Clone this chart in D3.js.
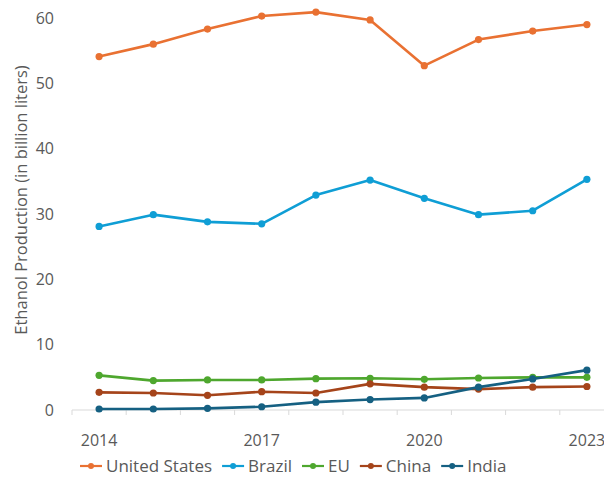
<!DOCTYPE html>
<html>
<head>
<meta charset="utf-8">
<script src="https://cdn.jsdelivr.net/npm/d3@7"></script>
<style>
  body { margin: 0; background: #fff; }
  text { font-family: "Open Sans", "Noto Sans", sans-serif; fill: #595959; }
</style>
</head>
<body>
<script>
(function() {

	// data
	var years = [2014, 2015, 2016, 2017, 2018, 2019, 2020, 2021, 2022, 2023];
	var tickYears = [2014, 2017, 2020, 2023];
	var yTicks = [0, 10, 20, 30, 40, 50, 60];
	var seriesNames = ['United States', 'Brazil', 'EU', 'China', 'India'];
	var seriesColors = ['#E97132', '#0F9ED5', '#4EA72E', '#A5441A', '#156082'];
	var usValues = [54.1, 56.0, 58.3, 60.3, 60.9, 59.7, 52.7, 56.7, 58.0, 59.0];
	var brazilValues = [28.1, 29.9, 28.8, 28.5, 32.9, 35.2, 32.4, 29.9, 30.5, 35.3];
	var euValues = [5.3, 4.5, 4.6, 4.6, 4.8, 4.85, 4.7, 4.9, 5.0, 5.0];
	var chinaValues = [2.7, 2.6, 2.25, 2.8, 2.6, 4.0, 3.5, 3.2, 3.5, 3.6];
	var indiaValues = [0.15, 0.15, 0.25, 0.5, 1.2, 1.6, 1.85, 3.5, 4.75, 6.1];

	var allValues = [usValues, brazilValues, euValues, chinaValues, indiaValues];

	var width = 604, height = 477;

	var svg = d3.select('body').append('svg')
		.attr('width', width)
		.attr('height', height);

	var x = d3.scaleBand()
		.domain(years)
		.range([72, 614]);

	var y = d3.scaleLinear()
		.domain([0, 60])
		.range([410, 18]);

	// x axis line with ticks between categories
	svg.append('line')
		.attr('x1', x.range()[0]).attr('x2', x.range()[1])
		.attr('y1', y(0)).attr('y2', y(0))
		.attr('stroke', '#d9d9d9').attr('stroke-width', 1);

	years.forEach(function(yr) {
		var tx = x(yr);
		svg.append('line')
			.attr('x1', tx).attr('x2', tx)
			.attr('y1', y(0)).attr('y2', y(0) + 5)
			.attr('stroke', '#d9d9d9').attr('stroke-width', 1);
	});

	svg.selectAll('.xlabel')
		.data(tickYears)
		.enter().append('text')
		.attr('class', 'xlabel')
		.attr('x', function(d) { return x(d) + x.bandwidth() / 2; })
		.attr('y', 446)
		.attr('text-anchor', 'middle')
		.style('font-size', '16px')
		.text(function(d) { return d; });

	svg.selectAll('.ylabel')
		.data(yTicks)
		.enter().append('text')
		.attr('class', 'ylabel')
		.attr('x', 54)
		.attr('y', function(d) { return y(d); })
		.attr('dy', '0.35em')
		.attr('text-anchor', 'end')
		.style('font-size', '16px')
		.text(function(d) { return d; });

	svg.append('text')
		.attr('transform', 'translate(27,' + 200 + ') rotate(-90)')
		.attr('text-anchor', 'middle')
		.style('font-size', '16.5px')
		.text('Ethanol Production (in billion liters)');

	var line = d3.line()
		.x(function(d, i) { return x(years[i]) + x.bandwidth() / 2; })
		.y(function(d) { return y(d); });

	allValues.forEach(function(vals, s) {
		var g = svg.append('g');
		g.append('path')
			.datum(vals)
			.attr('d', line)
			.attr('fill', 'none')
			.attr('stroke', seriesColors[s])
			.attr('stroke-width', 2.6)
			.attr('stroke-linejoin', 'round');
		g.selectAll('circle')
			.data(vals)
			.enter().append('circle')
			.attr('cx', function(d, i) { return x(years[i]) + x.bandwidth() / 2; })
			.attr('cy', function(d) { return y(d); })
			.attr('r', 3.6)
			.attr('fill', seriesColors[s]);
	});

	// Legend, laid out left to right
	var lx = 80;
	var legendY = 466;
	seriesNames.forEach(function(name, s) {
		svg.append('line')
			.attr('x1', lx).attr('x2', lx + 22)
			.attr('y1', legendY).attr('y2', legendY)
			.attr('stroke', seriesColors[s]).attr('stroke-width', 2.2);
		svg.append('circle')
			.attr('cx', lx + 11).attr('cy', legendY)
			.attr('r', 3).attr('fill', seriesColors[s]);
		var t = svg.append('text')
			.attr('x', lx + 26).attr('y', legendY)
			.attr('dy', '0.35em')
			.style('font-size', '17px')
			.text(name);
		lx += 26 + t.node().getComputedTextLength() + 10;
	});

})();
</script>
</body>
</html>
